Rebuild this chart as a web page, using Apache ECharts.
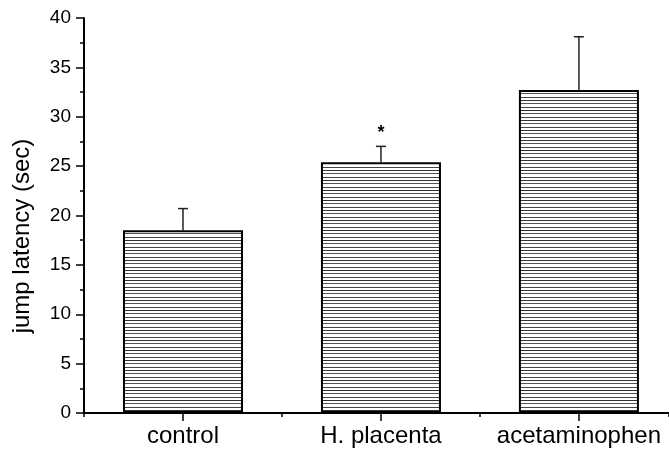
<!DOCTYPE html>
<html>
<head>
<meta charset="utf-8">
<script src="https://cdn.jsdelivr.net/npm/echarts@6/dist/echarts.min.js"></script>
<style>
html,body{margin:0;padding:0;background:#fff;}
#chart{width:669px;height:450px;}
</style>
</head>
<body>
<div id="chart"></div>
<script>
// ---- data ----
var categories = ['control', 'H. placenta', 'acetaminophen'];
var positions = [0.5, 1.5, 2.5];
var means = [18.5, 25.4, 32.7];
var errUpper = [20.7, 27.0, 38.1];
var significance = ['', '*', ''];
var starLevel = [0, 28.4, 0];
var yTicks = [0, 5, 10, 15, 20, 25, 30, 35, 40];

// hatch pattern
var pc = document.createElement('canvas');
pc.width = 10; pc.height = 10;
var pctx = pc.getContext('2d');
pctx.fillStyle = '#ffffff';
pctx.fillRect(0, 0, 10, 10);
pctx.fillStyle = '#333333';
pctx.fillRect(0, 0, 10, 1);
pctx.fillStyle = '#555555';
pctx.fillRect(0, 3, 10, 1);
pctx.fillStyle = '#444444';
pctx.fillRect(0, 7, 10, 1);

var font = 'Liberation Sans, Arial, Helvetica, sans-serif';
var chart = echarts.init(document.getElementById('chart'), null, {renderer: 'canvas'});

var barData = positions.map(function (p, i) { return [p, means[i]]; });
var errData = positions.map(function (p, i) { return [p, means[i], errUpper[i]]; });
var starData = positions.map(function (p, i) { return [p, starLevel[i], significance[i]]; })
  .filter(function (d) { return d[2] !== ''; });

var xMax = 2.955;

chart.setOption({
  animation: false,
  backgroundColor: '#ffffff',
  grid: {left: 84, right: 0, top: 18, bottom: 37, containLabel: false},
  xAxis: [{
    type: 'value', min: 0, max: xMax, interval: 1,
    axisLine: {show: true, lineStyle: {color: '#000', width: 2}},
    axisTick: {show: true, length: 4, lineStyle: {color: '#000', width: 1.5}},
    axisLabel: {show: false},
    splitLine: {show: false}
  }, {
    type: 'value', min: 0, max: xMax, position: 'bottom',
    axisLine: {show: false},
    axisTick: {show: true, length: 8, customValues: positions, lineStyle: {color: '#000', width: 1.5}},
    axisLabel: {
      show: true, customValues: positions, margin: 11,
      fontSize: 24, fontFamily: font, color: '#000',
      formatter: function (v) {
        for (var i = 0; i < positions.length; i++) {
          if (Math.abs(positions[i] - v) < 1e-6) return categories[i];
        }
        return '';
      }
    },
    splitLine: {show: false}
  }],
  yAxis: {
    type: 'value', min: yTicks[0], max: yTicks[yTicks.length - 1], interval: 5,
    axisLine: {show: true, lineStyle: {color: '#000', width: 2}},
    axisTick: {show: true, length: 8, lineStyle: {color: '#000', width: 1.5}},
    minorTick: {show: true, splitNumber: 2, length: 4, lineStyle: {color: '#000', width: 1.5}},
    axisLabel: {fontSize: 19, fontFamily: font, color: '#000', margin: 13},
    splitLine: {show: false}
  },
  graphic: [{
    type: 'text', x: 22, y: 236, rotation: Math.PI / 2,
    style: {text: 'jump latency (sec)', font: '24px ' + font, fill: '#000', align: 'center', verticalAlign: 'middle'}
  }],
  series: [{
    type: 'bar', xAxisIndex: 0, data: barData, barWidth: 120,
    itemStyle: {color: {image: pc, repeat: 'repeat'}, borderColor: '#000', borderWidth: 2}
  }, {
    type: 'custom', xAxisIndex: 0, data: errData, z: 1,
    renderItem: function (params, api) {
      var x = api.value(0);
      var base = api.coord([x, api.value(1)]);
      var top = api.coord([x, api.value(2)]);
      return {type: 'group', children: [
        {type: 'line', shape: {x1: top[0], y1: base[1], x2: top[0], y2: top[1]}, style: {stroke: '#222', lineWidth: 1.5}},
        {type: 'line', shape: {x1: top[0] - 5, y1: top[1], x2: top[0] + 5, y2: top[1]}, style: {stroke: '#222', lineWidth: 1.5}}
      ]};
    }
  }, {
    type: 'custom', xAxisIndex: 0, data: starData,
    renderItem: function (params, api) {
      var pt = api.coord([api.value(0), api.value(1)]);
      return {type: 'text', x: pt[0], y: pt[1], style: {text: starData[params.dataIndex][2], font: 'bold 18px ' + font, fill: '#000', align: 'center', verticalAlign: 'middle'}};
    }
  }]
});
</script>
</body>
</html>
